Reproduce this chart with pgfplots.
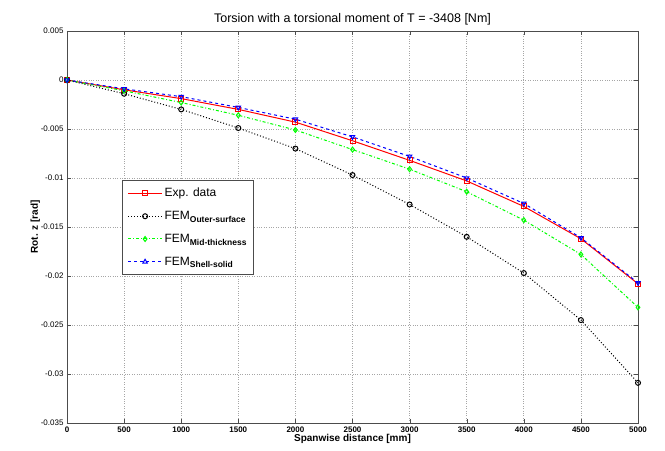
\documentclass[border=0pt]{standalone}
\usepackage{pgfplots}
\pgfplotsset{compat=1.18}
\usepackage{fontspec}
\setmainfont{Liberation Sans}
\definecolor{mred}{RGB}{255,0,0}
\definecolor{mblue}{RGB}{0,0,255}
\definecolor{mgreen}{RGB}{0,255,0}
\newcommand{\sub}[1]{\raisebox{-0.45ex}{\fontsize{8.5}{10}\selectfont\bfseries #1}}
\newcommand{\legimg}[3]{% color, dash, mark
  \begin{scope}\color{#1}
  \draw[#1, line width=1pt, #2] (0pt,0pt) -- (34pt,0pt);
  \draw[#1, line width=1pt, solid] plot[mark=#3, mark size=2.5pt, mark options={solid, draw=#1, fill=none}] coordinates {(17pt,0pt)};
  \end{scope}}
\begin{document}
\begin{tikzpicture}[x=1pt,y=1pt]
\begin{axis}[
  scale only axis,
  width=571pt, height=392pt,
  xmin=0, xmax=5000, ymin=-0.035, ymax=0.005,
  xtick={0,500,...,5000},
  ytick={0.005,0,-0.005,-0.01,-0.015,-0.02,-0.025,-0.03,-0.035},
  yticklabels={0.005,0,-0.005,-0.01,-0.015,-0.02,-0.025,-0.03,-0.035},
  scaled x ticks=false, scaled y ticks=false,
  xticklabel style={font=\fontsize{8}{9}\selectfont\bfseries, /pgf/number format/1000 sep={}},
  yticklabel style={font=\fontsize{8}{9}\selectfont},
  /pgf/number format/assume math mode=true,
  tick align=inside, ticks=major,
  major tick length=4pt,
  grid=major,
  grid style={dotted, gray!70, line width=0.7pt},
  axis line style={gray!60!black, line width=0.6pt},
  tick style={gray!60!black},
  title={Torsion with a torsional moment of T = -3408 [Nm]},
  title style={font=\fontsize{12.5}{14}\selectfont, yshift=-4pt},
  xlabel={\textbf{Spanwise distance [mm]}},
  ylabel={\textbf{Rot. z [rad]}},
  label style={font=\fontsize{10}{12}\selectfont},
  xlabel style={yshift=5pt},
  ylabel style={yshift=-6pt},
  legend style={at={(0.097,0.62)}, anchor=north west, font=\fontsize{12}{14}\selectfont,
    draw=gray!60!black, fill=white, row sep=9pt, inner xsep=5pt, inner ysep=6pt, cells={anchor=west}},
  legend cell align=left,
  every axis plot/.append style={line width=1pt},
  mark size=2.5pt,
]
\addplot[color=mred, solid, mark=square, mark options={solid, draw=mred, fill=none},
  legend image code/.code={\legimg{mred}{solid}{square}}] coordinates {
(0,0) (500,-0.0010) (1000,-0.0019) (1500,-0.0030) (2000,-0.0043) (2500,-0.0062)
(3000,-0.0082) (3500,-0.0103) (4000,-0.0129) (4500,-0.0162) (5000,-0.0208)};
\addlegendentry{Exp. data}
\addplot[color=black, dotted, mark=o, mark options={solid, draw=black, fill=none},
  legend image code/.code={\legimg{black}{dotted}{o}}] coordinates {
(0,0) (500,-0.0014) (1000,-0.0030) (1500,-0.0049) (2000,-0.0070) (2500,-0.0097)
(3000,-0.0127) (3500,-0.0160) (4000,-0.0197) (4500,-0.0245) (5000,-0.0309)};
\addlegendentry{FEM\sub{Outer-surface}}
\addplot[color=mgreen, dashdotted, mark=diamond, mark options={solid, draw=mgreen, fill=none},
  legend image code/.code={\legimg{mgreen}{dashdotted}{diamond}}] coordinates {
(0,0) (500,-0.0011) (1000,-0.0023) (1500,-0.0036) (2000,-0.0051) (2500,-0.0071)
(3000,-0.0091) (3500,-0.0114) (4000,-0.0143) (4500,-0.0178) (5000,-0.0232)};
\addlegendentry{FEM\sub{Mid-thickness}}
\addplot[color=mblue, dashed, mark=triangle, mark options={solid, draw=mblue, fill=none, rotate=180},
  legend image code/.code={\legimg{mblue}{dashed}{triangle}}] coordinates {
(0,0) (500,-0.0009) (1000,-0.0017) (1500,-0.0028) (2000,-0.0040) (2500,-0.0058)
(3000,-0.0078) (3500,-0.0100) (4000,-0.0126) (4500,-0.0161) (5000,-0.0207)};
\addlegendentry{FEM\sub{Shell-solid}}
\end{axis}
\path (current axis.south west) ++(-67pt,-27pt) coordinate (bbA);
\path (current axis.north east) ++(27pt,31pt) coordinate (bbB);
\path (bbA) (bbB);
\end{tikzpicture}
\end{document}
